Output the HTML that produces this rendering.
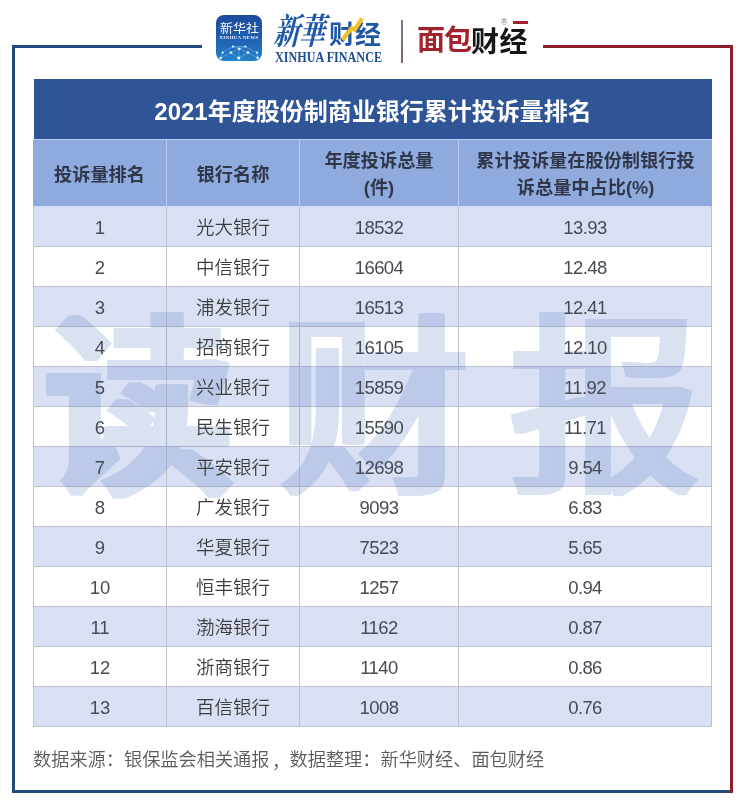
<!DOCTYPE html>
<html lang="zh-CN">
<head>
<meta charset="utf-8">
<title>2021年度股份制商业银行累计投诉量排名</title>
<style>
*{margin:0;padding:0;box-sizing:border-box;}
html,body{width:745px;height:805px;background:#fff;overflow:hidden;}
body{position:relative;font-family:"Liberation Sans","Noto Sans CJK SC",sans-serif;}
.abs{position:absolute;}
/* frame */
.fb{position:absolute;background:#22497e;}
.fr{position:absolute;background:#8e1f28;}
/* table */
#title{position:absolute;left:34px;top:79px;width:678px;height:60px;background:#2f5597;color:#fff;
  font-family:"Liberation Sans","Noto Sans CJK SC",sans-serif;font-weight:700;font-size:24px;line-height:60px;padding-top:3px;text-align:center;}
#head{position:absolute;left:33px;top:139px;width:679px;height:68px;background:#8faadc;}
.hc{position:absolute;top:0;height:68px;display:flex;align-items:center;justify-content:center;text-align:center;
  font-family:"Liberation Sans","Noto Sans CJK SC",sans-serif;font-weight:700;font-size:18.2px;line-height:27px;padding-top:4px;color:#30374a;}
.hl{position:absolute;background:#b6cdf6;}
.row{position:absolute;left:33px;width:679px;height:41px;border:1px solid #bec1ce;}
.row.o{background:#d9e0f3;}
.row.e{background:#fff;}
.c{position:absolute;top:1px;height:39px;line-height:39px;text-align:center;font-size:18.5px;color:#3e3e3e;font-weight:350;
  font-family:"Liberation Sans","Noto Sans CJK SC",sans-serif;}
.row .c:nth-child(3),.row .c:nth-child(4){letter-spacing:-0.6px;}
.row .c:nth-child(1),.row .c:nth-child(3),.row .c:nth-child(4){color:#464a52;}
.vl{position:absolute;top:207px;width:1px;height:520px;background:#c0c2cb;}
#foot{position:absolute;left:33px;top:747px;width:600px;height:26px;font-size:18.2px;line-height:26px;color:#5a5a5a;font-weight:350;white-space:nowrap;
  font-family:"Liberation Sans","Noto Sans CJK SC",sans-serif;}
#wm{position:absolute;left:0;top:0;width:745px;height:805px;opacity:0.19;z-index:1;pointer-events:none;}
#wm span{position:absolute;font-family:"Noto Sans CJK SC",sans-serif;font-weight:500;font-size:196px;line-height:196px;color:rgb(66,108,190);white-space:nowrap;
  transform:scaleX(0.98);transform-origin:0 0;text-shadow:1px 0,2px 0,3px 0,4px 0,5px 0,6px 0,7px 0,8px 0;}
.c{z-index:2;}
</style>
</head>
<body>
<!-- frame -->
<div class="fb" style="left:12px;top:45px;width:190px;height:3px"></div>
<div class="fb" style="left:12px;top:45px;width:3px;height:748px"></div>
<div class="fb" style="left:12px;top:790px;width:719px;height:3px"></div>
<div class="fr" style="left:543px;top:45px;width:190px;height:3px"></div>
<div class="fr" style="left:730px;top:45px;width:3px;height:748px"></div>

<!-- table title -->
<div id="title">2021年度股份制商业银行累计投诉量排名</div>
<!-- header -->
<div id="head">
  <div class="hl" style="left:0;top:0;width:679px;height:1px"></div>
  <div class="hl" style="left:133px;top:0;width:1px;height:68px"></div>
  <div class="hl" style="left:266px;top:0;width:1px;height:68px"></div>
  <div class="hl" style="left:425px;top:0;width:1px;height:68px"></div>
  <div class="hc" style="left:0;width:133px">投诉量排名</div>
  <div class="hc" style="left:134px;width:132px">银行名称</div>
  <div class="hc" style="left:267px;width:158px">年度投诉总量<br>(件)</div>
  <div class="hc" style="left:426px;width:253px">累计投诉量在股份制银行投<br>诉总量中占比(%)</div>
</div>

<!-- rows -->
<div id="rows"></div>
<div class="row o" style="top:206px;border-top-color:#c9d8f4"><div class="c" style="left:0;width:132px">1</div><div class="c" style="left:133px;width:132px">光大银行</div><div class="c" style="left:266px;width:158px">18532</div><div class="c" style="left:425px;width:252px">13.93</div></div>
<div class="row e" style="top:246px"><div class="c" style="left:0;width:132px">2</div><div class="c" style="left:133px;width:132px">中信银行</div><div class="c" style="left:266px;width:158px">16604</div><div class="c" style="left:425px;width:252px">12.48</div></div>
<div class="row o" style="top:286px"><div class="c" style="left:0;width:132px">3</div><div class="c" style="left:133px;width:132px">浦发银行</div><div class="c" style="left:266px;width:158px">16513</div><div class="c" style="left:425px;width:252px">12.41</div></div>
<div class="row e" style="top:326px"><div class="c" style="left:0;width:132px">4</div><div class="c" style="left:133px;width:132px">招商银行</div><div class="c" style="left:266px;width:158px">16105</div><div class="c" style="left:425px;width:252px">12.10</div></div>
<div class="row o" style="top:366px"><div class="c" style="left:0;width:132px">5</div><div class="c" style="left:133px;width:132px">兴业银行</div><div class="c" style="left:266px;width:158px">15859</div><div class="c" style="left:425px;width:252px">11.92</div></div>
<div class="row e" style="top:406px"><div class="c" style="left:0;width:132px">6</div><div class="c" style="left:133px;width:132px">民生银行</div><div class="c" style="left:266px;width:158px">15590</div><div class="c" style="left:425px;width:252px">11.71</div></div>
<div class="row o" style="top:446px"><div class="c" style="left:0;width:132px">7</div><div class="c" style="left:133px;width:132px">平安银行</div><div class="c" style="left:266px;width:158px">12698</div><div class="c" style="left:425px;width:252px">9.54</div></div>
<div class="row e" style="top:486px"><div class="c" style="left:0;width:132px">8</div><div class="c" style="left:133px;width:132px">广发银行</div><div class="c" style="left:266px;width:158px">9093</div><div class="c" style="left:425px;width:252px">6.83</div></div>
<div class="row o" style="top:526px"><div class="c" style="left:0;width:132px">9</div><div class="c" style="left:133px;width:132px">华夏银行</div><div class="c" style="left:266px;width:158px">7523</div><div class="c" style="left:425px;width:252px">5.65</div></div>
<div class="row e" style="top:566px"><div class="c" style="left:0;width:132px">10</div><div class="c" style="left:133px;width:132px">恒丰银行</div><div class="c" style="left:266px;width:158px">1257</div><div class="c" style="left:425px;width:252px">0.94</div></div>
<div class="row o" style="top:606px"><div class="c" style="left:0;width:132px">11</div><div class="c" style="left:133px;width:132px">渤海银行</div><div class="c" style="left:266px;width:158px">1162</div><div class="c" style="left:425px;width:252px">0.87</div></div>
<div class="row e" style="top:646px"><div class="c" style="left:0;width:132px">12</div><div class="c" style="left:133px;width:132px">浙商银行</div><div class="c" style="left:266px;width:158px">1140</div><div class="c" style="left:425px;width:252px">0.86</div></div>
<div class="row o" style="top:686px"><div class="c" style="left:0;width:132px">13</div><div class="c" style="left:133px;width:132px">百信银行</div><div class="c" style="left:266px;width:158px">1008</div><div class="c" style="left:425px;width:252px">0.76</div></div>
<div class="vl" style="left:166px"></div>
<div class="vl" style="left:299px"></div>
<div class="vl" style="left:458px"></div>

<!-- watermark -->
<div id="wm"><span style="left:40px;top:295.5px;font-weight:700;transform:scaleX(0.955);text-shadow:1px 0,2px 0,3px 0,4px 0,5px 0,6px 0,7px 0,8px 0,9px 0,10px 0,11px 0,12px 0">读</span><span style="left:274px;top:296px">财</span><span style="left:505px;top:295px">报</span></div>

<!-- footer -->
<div id="foot"><span style="position:absolute;left:0;top:0">数据来源：银保监会相关通报</span><span style="position:absolute;left:239px;top:0;font-family:'Noto Sans CJK SC',sans-serif">，</span><span style="position:absolute;left:256.5px;top:0">数据整理：新华财经、面包财经</span></div>

<!-- LOGOS -->
<div id="xh" style="position:absolute;left:216px;top:15px;width:46px;height:46px;border-radius:8px;background:linear-gradient(180deg,#1d4a9c 0%,#1f5cad 45%,#2582cb 100%);overflow:hidden">
  <div style="position:absolute;left:0;top:5.5px;width:47px;text-align:center;color:#fff;font-family:'Noto Sans CJK SC',sans-serif;font-weight:400;font-size:13px;line-height:13px;transform:scaleY(0.95)">新华社</div>
  <div style="position:absolute;left:0;top:19.5px;width:46px;text-align:center;color:#eaf2ff;font-family:'Liberation Serif',serif;font-weight:700;font-size:5px;line-height:5px;white-space:nowrap;letter-spacing:0.3px">XINHUA NEWS</div>
  <svg style="position:absolute;left:0;top:0" width="46" height="46" viewBox="0 0 46 46">
    <g stroke="#9fd4ff" stroke-width="0.5" opacity="0.8" fill="none">
      <polyline points="4.7,43 6.7,37.6 17,31.6 29.4,31.6 41,37.6 41.6,43"/>
      <polyline points="14.9,37.6 23.2,33.7 32,37.6"/>
      <polyline points="4.7,43 14.9,37.6 22.8,43 32,37.6 41.6,43"/>
      <polyline points="17,31.6 23.2,33.7 29.4,31.6"/>
      <line x1="23.2" y1="33.7" x2="22.8" y2="43"/>
    </g>
    <g fill="#e8f7ff">
      <circle cx="17" cy="31.6" r="1.1"/><circle cx="29.4" cy="31.6" r="1.1"/><circle cx="23.2" cy="33.7" r="1.3"/>
      <circle cx="6.7" cy="37.6" r="1.1"/><circle cx="14.9" cy="37.6" r="1.3"/><circle cx="32" cy="37.6" r="1.3"/><circle cx="41" cy="37.6" r="1.1"/>
      <circle cx="4.7" cy="43" r="1.3"/><circle cx="22.8" cy="43" r="1.6"/><circle cx="41.6" cy="42.7" r="1.3"/>
    </g>
  </svg>
</div>
<div id="xhf1" style="position:absolute;left:277px;top:5.5px;color:#1f58a8;font-family:'Noto Serif CJK SC',serif;font-weight:700;font-size:36px;line-height:46px;white-space:nowrap;transform:skewX(-14deg) scaleX(0.72);transform-origin:0 50%;letter-spacing:-1px">新華</div>
<div id="xhf2" style="position:absolute;left:329px;top:13px;color:#1f56a6;font-family:'Noto Sans CJK SC',sans-serif;font-weight:700;font-size:26px;line-height:40px;white-space:nowrap;letter-spacing:0px">财经</div>
<svg style="position:absolute;left:336px;top:14px" width="32" height="32" viewBox="0 0 32 32">
  <polyline points="6.3,25.8 15.6,14.1 18.8,15.7 26,4.5" fill="none" stroke="#f2c028" stroke-width="4.2" stroke-linejoin="miter"/>
</svg>
<div id="xhf3" style="position:absolute;left:275px;top:49.5px;color:#1c4c94;font-family:'Liberation Serif',serif;font-weight:700;font-size:14px;line-height:16px;white-space:nowrap;transform:scaleX(0.868);transform-origin:0 50%">XINHUA FINANCE</div>
<div style="position:absolute;left:401px;top:20px;width:2px;height:43px;background:linear-gradient(180deg,#6c8494,#8c5c66)"></div>
<div id="mb1" style="position:absolute;left:417px;top:17px;color:#a3222c;font-family:'Noto Sans CJK SC',sans-serif;font-weight:700;font-size:28px;line-height:42px;white-space:nowrap;letter-spacing:-1px">面包</div>
<div id="mb2" style="position:absolute;left:471px;top:19px;color:#161616;font-family:'Noto Sans CJK SC',sans-serif;font-weight:700;font-size:28px;line-height:42px;white-space:nowrap;letter-spacing:0.5px">财经</div>
<div style="position:absolute;left:513px;top:21px;width:15px;height:3px;background:#a3222c"></div>
<div style="position:absolute;left:501px;top:17px;color:#777;font-family:'Liberation Sans',sans-serif;font-size:8.5px;line-height:10px">®</div>
</body>
</html>
